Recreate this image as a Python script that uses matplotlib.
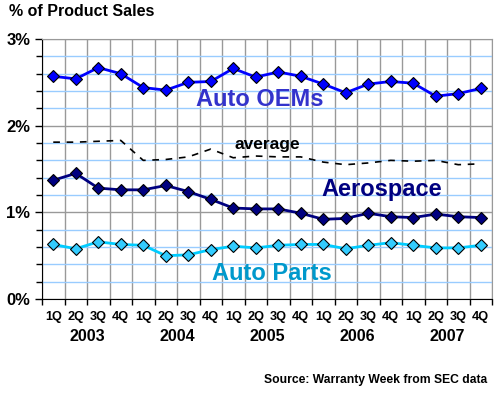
import matplotlib
matplotlib.use("Agg")
import matplotlib.pyplot as plt
from matplotlib.ticker import MultipleLocator, FuncFormatter

plt.rcParams["font.family"] = ["Liberation Sans", "DejaVu Sans"]

quarters = ["1Q", "2Q", "3Q", "4Q"] * 5
years = ["2003", "2004", "2005", "2006", "2007"]

auto_oems = [2.57, 2.54, 2.67, 2.60, 2.44, 2.41, 2.50, 2.51, 2.66, 2.56,
             2.62, 2.57, 2.48, 2.38, 2.48, 2.51, 2.49, 2.34, 2.37, 2.43]
aerospace = [1.37, 1.45, 1.28, 1.26, 1.26, 1.31, 1.24, 1.15, 1.05, 1.04,
             1.04, 0.99, 0.92, 0.93, 0.99, 0.95, 0.94, 0.98, 0.95, 0.94]
auto_parts = [0.63, 0.58, 0.66, 0.63, 0.62, 0.50, 0.51, 0.57, 0.61, 0.59,
              0.62, 0.63, 0.63, 0.58, 0.62, 0.65, 0.62, 0.59, 0.59, 0.62]
average = [1.81, 1.81, 1.82, 1.83, 1.60, 1.61, 1.64, 1.73, 1.63, 1.65,
           1.64, 1.64, 1.58, 1.55, 1.57, 1.60, 1.59, 1.60, 1.55, 1.56]

x = list(range(len(quarters)))

fig = plt.figure(figsize=(5.0, 3.94), dpi=100)
ax = fig.add_axes([0.084, 0.241, 0.9, 0.66])

ax.plot(x, average, color="black", lw=1.2, ls=(0, (4, 4)), zorder=3)
ax.plot(x, auto_oems, color="#0000ff", lw=2, marker="D", ms=6.5,
        mfc="#0000ff", mec="black", mew=0.8, zorder=4)
ax.plot(x, aerospace, color="#000080", lw=2, marker="D", ms=6.5,
        mfc="#000080", mec="black", mew=0.8, zorder=4)
ax.plot(x, auto_parts, color="#00ccff", lw=2, marker="D", ms=6.5,
        mfc="#33ccff", mec="black", mew=0.8, zorder=4)

ax.text(9.2, 2.30, "Auto OEMs", color="#3333cc", fontsize=17,
        fontweight="bold", ha="center", va="center", zorder=5)
ax.text(9.5, 1.78, "average", color="black", fontsize=12.5,
        fontweight="bold", ha="center", va="center", zorder=5)
ax.text(14.6, 1.26, "Aerospace", color="#000080", fontsize=17,
        fontweight="bold", ha="center", va="center", zorder=5)
ax.text(9.7, 0.30, "Auto Parts", color="#0099cc", fontsize=17,
        fontweight="bold", ha="center", va="center", zorder=5)

ax.set_xlim(-0.5, len(x) - 0.5)
ax.set_ylim(0, 3)
ax.yaxis.set_major_locator(MultipleLocator(1))
ax.yaxis.set_minor_locator(MultipleLocator(0.2))
ax.yaxis.set_major_formatter(FuncFormatter(lambda v, p: f"{v:.0f}%"))
ax.grid(which="minor", axis="y", color="#99ccff", lw=1)
ax.grid(which="major", axis="y", color="#999999", lw=1)

# vertical gridlines between categories
ax.set_xticks([i - 0.5 for i in range(len(x) + 1)])
ax.set_xticklabels([])
ax.xaxis.grid(True, color="#999999", lw=1)
ax.tick_params(axis="x", length=4, width=1, color="black")
ax.tick_params(axis="y", which="major", length=5, width=1, labelsize=12)
ax.tick_params(axis="y", which="minor", length=4, width=1)
for lab in ax.get_yticklabels():
    lab.set_fontweight("bold")
ax.set_axisbelow(True)

for sp in ("top", "right"):
    ax.spines[sp].set_color("#999999")
for sp in ("left", "bottom"):
    ax.spines[sp].set_color("black")

for i, q in enumerate(quarters):
    ax.text(i, -0.21, q, ha="center", va="center", fontsize=9.2,
            fontweight="bold", clip_on=False)
for j, yr in enumerate(years):
    ax.text(4 * j + 1.5, -0.43, yr, ha="center", va="center", fontsize=11.5,
            fontweight="bold", clip_on=False)

fig.text(0.018, 0.97, "% of Product Sales", fontsize=11.5, fontweight="bold",
         ha="left", va="center")
fig.text(0.974, 0.035, "Source: Warranty Week from SEC data", fontsize=8.7,
         fontweight="bold", ha="right", va="center")

fig.savefig("out.png", dpi=100)
